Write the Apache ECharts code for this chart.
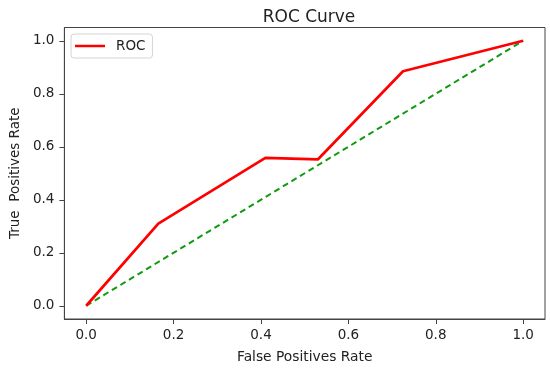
<!DOCTYPE html>
<html>
<head>
<meta charset="utf-8">
<script src="https://cdn.jsdelivr.net/npm/echarts@6/dist/echarts.min.js"></script>
<style>html,body{margin:0;padding:0;background:#fff}#c{width:550px;height:369px}</style>
</head>
<body>
<div id="c"></div>
<script>
const fpr = [0, 0.165, 0.41, 0.53, 0.725, 1.0];
const tpr = [0, 0.31, 0.558, 0.552, 0.885, 1.0];
const diagX = [0, 1];
const diagY = [0, 1];
const tickValues = [0, 0.2, 0.4, 0.6, 0.8, 1.0];

const font = 'DejaVu Sans';
const chart = echarts.init(document.getElementById('c'), null, {renderer: 'canvas'});
chart.setOption({
  animation: false,
  backgroundColor: '#fff',
  title: {
    text: 'ROC Curve', left: 304, top: 4, textAlign: 'center',
    textStyle: {fontFamily: font, fontSize: 17, fontWeight: 'normal', color: '#222'}
  },
  legend: {
    data: [{name: 'ROC', icon: 'rect'}], left: 71, top: 34, orient: 'vertical',
    itemWidth: 30, itemHeight: 2.5,
    borderColor: '#d4d4d4', borderWidth: 1, borderRadius: 3, padding: [5, 7, 5, 4],
    backgroundColor: '#fff',
    textStyle: {fontFamily: font, fontSize: 13.5, color: '#222', padding: [0, 0, 0, 6]}
  },
  grid: {left: 63, right: 5, top: 27.5, bottom: 46.5, show: true, borderColor: '#444', borderWidth: 1},
  xAxis: {
    type: 'value', min: -0.05, max: 1.05,
    name: 'False Positives Rate', nameLocation: 'middle', nameGap: 31,
    nameTextStyle: {fontFamily: font, fontSize: 13.8, color: '#222'},
    axisLine: {show: true, onZero: false, lineStyle: {color: '#444'}},
    axisTick: {show: true, length: 5, customValues: tickValues, lineStyle: {color: '#444'}},
    axisLabel: {customValues: tickValues, fontFamily: font, fontSize: 13.5, color: '#222', margin: 9,
      formatter: v => v.toFixed(1)},
    splitLine: {show: false}
  },
  yAxis: {
    type: 'value', min: -0.05, max: 1.05,
    name: 'True  Positives Rate', nameLocation: 'middle', nameGap: 41,
    nameTextStyle: {fontFamily: font, fontSize: 13.5, color: '#222'},
    axisLine: {show: true, onZero: false, lineStyle: {color: '#444'}},
    axisTick: {show: true, length: 5, customValues: tickValues, lineStyle: {color: '#444'}},
    axisLabel: {customValues: tickValues, fontFamily: font, fontSize: 13.5, color: '#222', margin: 10,
      formatter: v => v.toFixed(1)},
    splitLine: {show: false}
  },
  series: [
    {
      name: 'ROC', type: 'line', symbol: 'none', z: 3,
      data: fpr.map((x, i) => [x, tpr[i]]),
      lineStyle: {color: '#ff0000', width: 2.7},
      itemStyle: {color: '#ff0000'}
    },
    {
      name: 'diag', type: 'line', symbol: 'none', z: 2,
      data: diagX.map((x, i) => [x, diagY[i]]),
      lineStyle: {color: '#109a10', width: 2, type: [6, 4]},
      itemStyle: {color: '#109a10'}
    }
  ]
});
</script>
</body>
</html>
